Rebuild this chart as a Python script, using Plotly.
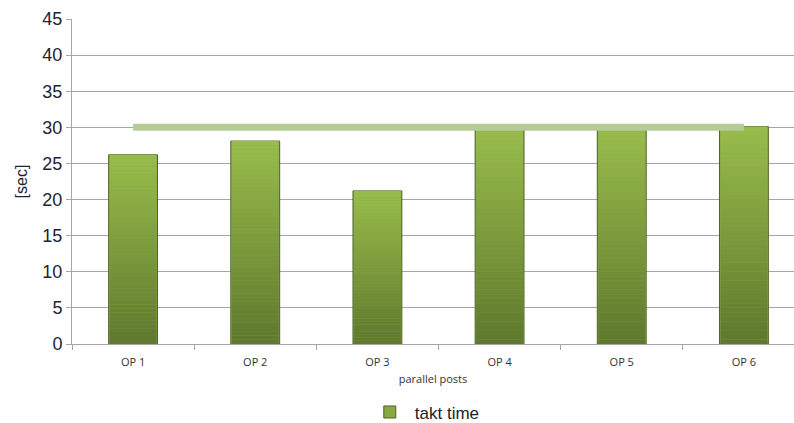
import plotly.graph_objects as go

# Cycle time per operation and the takt time target
operations = ["OP 1", "OP 2", "OP 3", "OP 4", "OP 5", "OP 6"]
cycle_times = [26.2, 28.1, 21.2, 30.0, 30.0, 30.1]
takt_time = [30, 30]
takt_span = ["OP 1", "OP 6"]
y_ticks = [0, 5, 10, 15, 20, 25, 30, 35, 40, 45]

# vertical shading of the bars: light olive at the top to dark olive at the base
N_STEPS = 48
top_rgb = (153, 189, 76)
bottom_rgb = (94, 120, 45)


def mix(t):
    r = [round(b + (a - b) * t) for a, b in zip(top_rgb, bottom_rgb)]
    return f"rgb({r[0]},{r[1]},{r[2]})"


fig = go.Figure()

# outlined base bars (legend entry)
fig.add_trace(go.Bar(
    x=operations, y=cycle_times, name="takt time", width=0.4,
    marker=dict(color=mix(0.7), line=dict(color="rgb(78,98,38)", width=1)),
    showlegend=True,
))

# shaded slices laid over each bar
for k in range(N_STEPS):
    lo = [v * k / N_STEPS for v in cycle_times]
    h = [v / N_STEPS * 1.02 for v in cycle_times]
    fig.add_trace(go.Bar(
        x=operations, y=h, base=lo, width=0.385,
        marker=dict(color=mix((k + 0.5) / N_STEPS), line=dict(width=0)),
        showlegend=False, hoverinfo="skip",
    ))

# takt time line
fig.add_trace(go.Scatter(
    x=takt_span, y=takt_time, mode="lines",
    line=dict(color="rgb(181,204,152)", width=7),
    showlegend=False,
))

fig.update_layout(
    width=794, height=423,
    margin=dict(l=72, r=0, t=19, b=79),
    paper_bgcolor="white", plot_bgcolor="white",
    barmode="overlay",
    bargap=0.6,
    showlegend=True,
    legend=dict(
        orientation="h", xref="container", yref="container",
        x=0.535, xanchor="center", y=0.025, yanchor="middle",
        font=dict(family="Liberation Sans, Arial, sans-serif", size=17, color="#222222"),
        itemwidth=40,
    ),
    xaxis=dict(
        type="category",
        range=[-0.5, 5.41],
        showgrid=False,
        showline=True, linecolor="#a6a6a6", linewidth=1,
        ticks="outside", tickson="boundaries", ticklen=5, tickcolor="#a6a6a6",
        ticklabelstandoff=8,
        tickfont=dict(family="Open Sans, Liberation Sans, sans-serif", size=11, color="#333333"),
        title=dict(text="parallel posts", standoff=7,
                   font=dict(family="Open Sans, Liberation Sans, sans-serif", size=11, color="#333333")),
    ),
    yaxis=dict(
        range=[0, 45],
        tickvals=y_ticks,
        showgrid=True, gridcolor="#a6a6a6", gridwidth=1,
        showline=True, linecolor="#a6a6a6", linewidth=1,
        ticks="outside", ticklen=5, tickcolor="#a6a6a6",
        zeroline=False,
        tickfont=dict(family="Liberation Sans Narrow, Arial Narrow, sans-serif", size=18, color="#1e2333"),
        title=dict(text="[sec]", standoff=10,
                   font=dict(family="Liberation Sans Narrow, Arial Narrow, sans-serif", size=16, color="#1e2333")),
    ),
)

fig.write_html("out.html")
